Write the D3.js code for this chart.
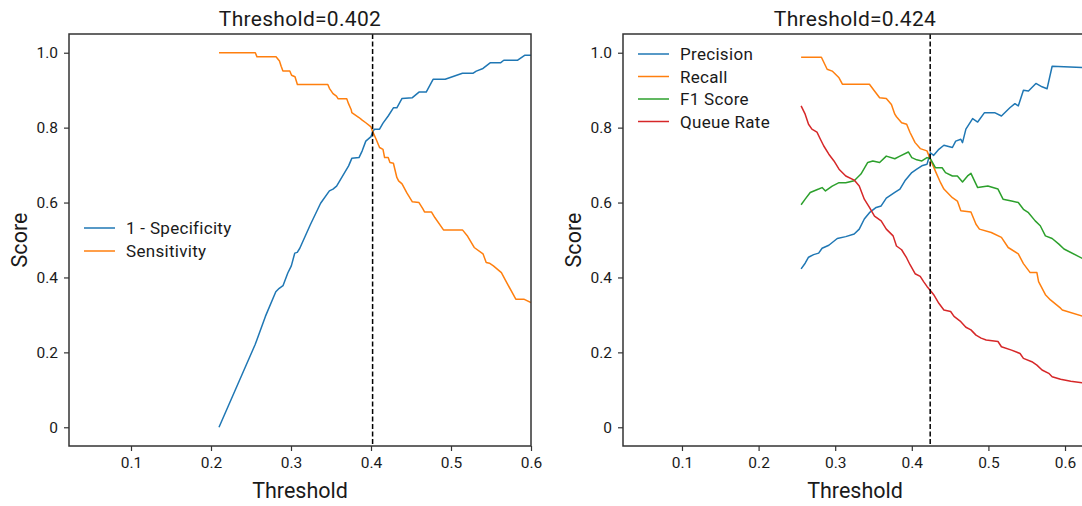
<!DOCTYPE html>
<html>
<head>
<meta charset="utf-8">
<script src="https://cdn.jsdelivr.net/npm/d3@7"></script>
<style>
  body { margin: 0; background: #fff; }
  text { font-family: Roboto, "DejaVu Sans", sans-serif; fill: #1a1a1a; }
</style>
</head>
<body>
<div id="chart"></div>
<script>
// chosen thresholds (dashed lines / titles)
var leftThreshold = 0.402
var rightThreshold = 0.424

// tick labels
var xTicks = [0.1, 0.2, 0.3, 0.4, 0.5, 0.6]
var yTicks = [0, 0.2, 0.4, 0.6, 0.8, 1.0]

// left panel: [threshold, score]
var specificity = [
  [0.210, 0.000], [0.2552, 0.221], [0.2573, 0.233], [0.268, 0.296], [0.281, 0.362],
  [0.2853, 0.371], [0.290, 0.378], [0.296, 0.412], [0.3004, 0.431], [0.3047, 0.465],
  [0.3078, 0.467], [0.311, 0.478], [0.324, 0.540], [0.337, 0.598], [0.348, 0.631], [0.3525, 0.636],
  [0.357, 0.644], [0.372, 0.698], [0.376, 0.718], [0.385, 0.720], [0.389, 0.738],
  [0.3935, 0.764], [0.400, 0.776], [0.402, 0.788], [0.4043, 0.796], [0.4107, 0.796],
  [0.415, 0.812], [0.4215, 0.831], [0.428, 0.853], [0.4323, 0.853], [0.4388, 0.878],
  [0.4517, 0.880], [0.460, 0.895], [0.469, 0.895], [0.4776, 0.929], [0.4927, 0.929],
  [0.5143, 0.945], [0.5273, 0.945], [0.5316, 0.951], [0.540, 0.958], [0.5489, 0.973],
  [0.5618, 0.973], [0.566, 0.980], [0.5834, 0.980], [0.592, 0.993], [0.600, 0.993]
]
var sensitivity = [
  [0.210, 1.000], [0.2554, 1.000], [0.2575, 0.989], [0.2813, 0.989], [0.2856, 0.978],
  [0.2877, 0.964], [0.2899, 0.951], [0.2985, 0.951], [0.3007, 0.940], [0.305, 0.936],
  [0.308, 0.915], [0.346, 0.915], [0.348, 0.905], [0.3525, 0.891], [0.3568, 0.884],
  [0.359, 0.877], [0.3697, 0.877], [0.3719, 0.864], [0.3754, 0.847], [0.376, 0.840],
  [0.385, 0.827], [0.389, 0.820], [0.3935, 0.813], [0.400, 0.802], [0.402, 0.790],
  [0.4064, 0.769], [0.4107, 0.747], [0.415, 0.742], [0.417, 0.720], [0.4215, 0.720],
  [0.4237, 0.707], [0.428, 0.705], [0.4323, 0.667], [0.4345, 0.658], [0.4388, 0.650],
  [0.445, 0.625], [0.4517, 0.602], [0.460, 0.600], [0.4647, 0.584], [0.4669, 0.575],
  [0.4755, 0.575], [0.4798, 0.560], [0.4906, 0.527], [0.5143, 0.527], [0.5208, 0.510],
  [0.529, 0.480], [0.540, 0.463], [0.544, 0.440], [0.548, 0.438], [0.553, 0.431],
  [0.563, 0.413], [0.570, 0.385], [0.581, 0.342], [0.591, 0.342], [0.600, 0.333]
]

// right panel: [threshold, score]
var precision = [
  [0.2555, 0.423], [0.2608, 0.438], [0.2652, 0.454], [0.2718, 0.461], [0.2784, 0.465],
  [0.2829, 0.478], [0.2917, 0.486], [0.3027, 0.504], [0.3138, 0.509], [0.3248, 0.516],
  [0.3314, 0.529], [0.338, 0.556], [0.3447, 0.573], [0.3535, 0.587], [0.360, 0.591],
  [0.3667, 0.612], [0.3778, 0.627], [0.3845, 0.636], [0.391, 0.658], [0.400, 0.680],
  [0.4065, 0.689], [0.4131, 0.698], [0.4198, 0.702], [0.4242, 0.733], [0.4286, 0.726],
  [0.4353, 0.742], [0.4419, 0.753], [0.453, 0.747], [0.4573, 0.764], [0.464, 0.769],
  [0.4662, 0.760], [0.4706, 0.796], [0.4794, 0.824], [0.486, 0.815], [0.4949, 0.840],
  [0.5081, 0.840], [0.517, 0.831], [0.528, 0.853], [0.5346, 0.864], [0.539, 0.858],
  [0.5457, 0.900], [0.5523, 0.898], [0.562, 0.918], [0.570, 0.909], [0.5766, 0.904],
  [0.5832, 0.964], [0.630, 0.960]
]
var recall = [
  [0.2555, 0.988], [0.282, 0.988], [0.2895, 0.956], [0.2961, 0.951], [0.305, 0.933],
  [0.3094, 0.916], [0.3447, 0.916], [0.3513, 0.898], [0.358, 0.880], [0.3667, 0.878],
  [0.3734, 0.862], [0.3778, 0.836], [0.380, 0.829], [0.3867, 0.813], [0.3933, 0.809],
  [0.3977, 0.787], [0.4043, 0.760], [0.411, 0.744], [0.4198, 0.738], [0.4242, 0.716],
  [0.4308, 0.684], [0.4375, 0.653], [0.4419, 0.636], [0.453, 0.613], [0.4595, 0.604],
  [0.464, 0.578], [0.4772, 0.575], [0.4838, 0.542], [0.4883, 0.529], [0.5037, 0.520],
  [0.517, 0.507], [0.5258, 0.480], [0.539, 0.463], [0.5457, 0.437], [0.5545, 0.413],
  [0.5633, 0.413], [0.5655, 0.389], [0.5744, 0.354], [0.581, 0.340], [0.5942, 0.318],
  [0.5965, 0.313], [0.630, 0.292]
]
var f1Score = [
  [0.2555, 0.594], [0.2608, 0.609], [0.2674, 0.627], [0.2784, 0.636], [0.2829, 0.640],
  [0.2873, 0.631], [0.2961, 0.644], [0.305, 0.653], [0.3138, 0.653], [0.3248, 0.658],
  [0.3336, 0.676], [0.3425, 0.707], [0.3491, 0.711], [0.358, 0.707], [0.3667, 0.724],
  [0.3778, 0.717], [0.3845, 0.724], [0.3955, 0.735], [0.400, 0.720], [0.4065, 0.714],
  [0.4131, 0.711], [0.4198, 0.720], [0.4242, 0.717], [0.4308, 0.693], [0.4396, 0.693],
  [0.444, 0.680], [0.453, 0.671], [0.4595, 0.671], [0.4662, 0.655], [0.4728, 0.671],
  [0.4772, 0.678], [0.486, 0.640], [0.4993, 0.644], [0.5125, 0.636], [0.5191, 0.609],
  [0.5302, 0.604], [0.539, 0.600], [0.5457, 0.582], [0.5523, 0.573], [0.5611, 0.551],
  [0.5677, 0.538], [0.5744, 0.511], [0.5832, 0.504], [0.592, 0.489], [0.5987, 0.476],
  [0.630, 0.443]
]
var queueRate = [
  [0.2555, 0.858], [0.2608, 0.836], [0.2652, 0.809], [0.2696, 0.796], [0.2762, 0.788],
  [0.2807, 0.769], [0.2851, 0.751], [0.2917, 0.729], [0.2984, 0.711], [0.305, 0.689],
  [0.3138, 0.671], [0.3248, 0.660], [0.3314, 0.644], [0.338, 0.609], [0.3447, 0.587],
  [0.3513, 0.564], [0.360, 0.551], [0.3667, 0.529], [0.3756, 0.511], [0.380, 0.484],
  [0.3867, 0.474], [0.3933, 0.452], [0.3977, 0.434], [0.4043, 0.410], [0.411, 0.403],
  [0.4154, 0.389], [0.4198, 0.376], [0.4242, 0.365], [0.4286, 0.354], [0.4353, 0.331],
  [0.4419, 0.313], [0.4507, 0.309], [0.4551, 0.296], [0.464, 0.282], [0.4706, 0.267],
  [0.4772, 0.260], [0.4838, 0.246], [0.4905, 0.238], [0.4971, 0.233], [0.5125, 0.229],
  [0.517, 0.215], [0.5302, 0.206], [0.5413, 0.197], [0.5457, 0.184], [0.5567, 0.175],
  [0.5633, 0.166], [0.570, 0.153], [0.5788, 0.144], [0.5832, 0.135], [0.5942, 0.128],
  [0.6075, 0.123], [0.630, 0.117]
]

var colors = ["#1f77b4", "#ff7f0e", "#2ca02c", "#d62728"]

var width = 1082
var height = 506

var svg = d3.select("#chart")
  .append("svg")
    .attr("width", width)
    .attr("height", height)

// one panel = one matplotlib axes
function drawPanel(p) {
  var x = d3.scaleLinear().domain(p.xDomain).range([p.left, p.right])
  var y = d3.scaleLinear().domain([-0.05, 1.05]).range([446, 34])

  var g = svg.append("g")

  g.append("clipPath").attr("id", p.id + "-clip")
    .append("rect")
      .attr("x", p.left).attr("y", 34)
      .attr("width", p.right - p.left).attr("height", 412)

  // x axis
  g.append("g")
    .attr("transform", "translate(0,446)")
    .call(d3.axisBottom(x).tickValues(xTicks).tickSize(5).tickPadding(6).tickFormat(d3.format(".1f")))
    .call(a => a.select(".domain").remove())
    .call(a => a.selectAll("line").attr("stroke", "#333").attr("stroke-width", 1.2))
    .call(a => a.selectAll("text").style("font-size", "15.5px").attr("fill", "#1a1a1a"))

  // y axis
  g.append("g")
    .attr("transform", "translate(" + p.left + ",0)")
    .call(d3.axisLeft(y).tickValues(yTicks).tickSize(5).tickPadding(6)
      .tickFormat(d => d == 0 ? "0" : d3.format(".1f")(d)))
    .call(a => a.select(".domain").remove())
    .call(a => a.selectAll("line").attr("stroke", "#333").attr("stroke-width", 1.2))
    .call(a => a.selectAll("text").style("font-size", "15.5px").attr("fill", "#1a1a1a"))

  var line = d3.line().x(d => x(d[0])).y(d => y(d[1]))

  var plot = g.append("g").attr("clip-path", "url(#" + p.id + "-clip)")

  p.series.forEach(function(s, i) {
    plot.append("path")
      .datum(s.values)
      .attr("fill", "none")
      .attr("stroke", colors[i])
      .attr("stroke-width", 1.5)
      .attr("stroke-linejoin", "round")
      .attr("d", line)
  })

  // threshold marker
  plot.append("line")
    .attr("x1", x(p.threshold)).attr("x2", x(p.threshold))
    .attr("y1", 34).attr("y2", 446)
    .attr("stroke", "#000")
    .attr("stroke-width", 1.5)
    .attr("stroke-dasharray", "5,2.5")

  // frame
  g.append("rect")
    .attr("x", p.left).attr("y", 34)
    .attr("width", p.right - p.left).attr("height", 412)
    .attr("fill", "none")
    .attr("stroke", "#333")
    .attr("stroke-width", 1.5)

  var cx = (p.left + p.right) / 2
  g.append("text")
    .attr("x", cx).attr("y", 26)
    .attr("text-anchor", "middle")
    .style("font-size", "21px")
    .style("letter-spacing", "0.3px")
    .text("Threshold=" + d3.format(".3f")(p.threshold))

  g.append("text")
    .attr("x", cx).attr("y", 498)
    .attr("text-anchor", "middle")
    .style("font-size", "21.5px")
    .text("Threshold")

  g.append("text")
    .attr("transform", "translate(" + (p.left - 42) + ",240) rotate(-90)")
    .attr("text-anchor", "middle")
    .style("font-size", "21.5px")
    .text("Score")

  // legend, no frame
  var leg = g.append("g")
  p.series.forEach(function(s, i) {
    var ly = p.legendY + i * p.legendStep
    leg.append("line")
      .attr("x1", p.left + 15).attr("x2", p.left + 46)
      .attr("y1", ly).attr("y2", ly)
      .attr("stroke", colors[i]).attr("stroke-width", 1.5)
    leg.append("text")
      .attr("x", p.left + 57).attr("y", ly + 6)
      .style("font-size", "17px")
      .style("letter-spacing", "0.3px")
      .text(s.name)
  })
}

drawPanel({
  id: "left", left: 69, right: 531, xDomain: [0.0225, 0.6],
  threshold: leftThreshold, legendY: 228, legendStep: 23,
  series: [
    { name: "1 - Specificity", values: specificity },
    { name: "Sensitivity", values: sensitivity }
  ]
})

drawPanel({
  id: "right", left: 623, right: 1087, xDomain: [0.023, 0.6287],
  threshold: rightThreshold, legendY: 54, legendStep: 22.5,
  series: [
    { name: "Precision", values: precision },
    { name: "Recall", values: recall },
    { name: "F1 Score", values: f1Score },
    { name: "Queue Rate", values: queueRate }
  ]
})
</script>
</body>
</html>
